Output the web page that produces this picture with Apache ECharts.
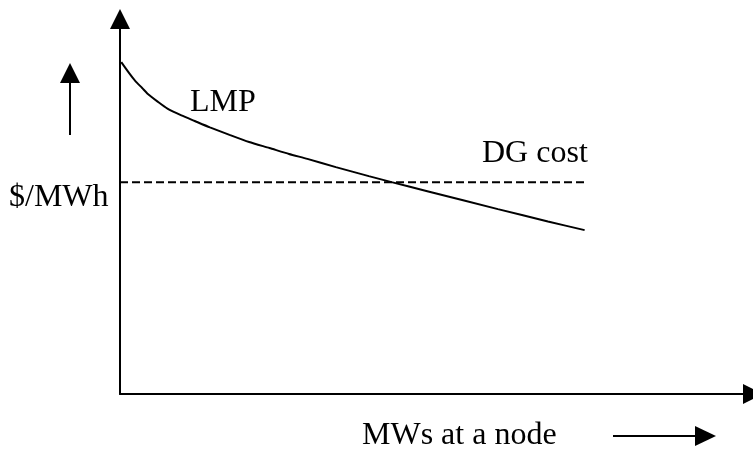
<!DOCTYPE html>
<html>
<head>
<meta charset="utf-8">
<script src="https://cdn.jsdelivr.net/npm/echarts@6/dist/echarts.min.js"></script>
<style>
html,body{margin:0;padding:0;background:#fff;}
#chart{width:753px;height:450px;}
</style>
</head>
<body>
<div id="chart"></div>
<script>
// LMP curve (x = MWs at a node, y = $/MWh), relative units
const lmpX = [0.2, 1.3, 2.4, 3.5, 4.4, 6.0, 7.5, 9.7, 11.8, 14.2, 17.3, 20.4, 23.6, 26.7, 29.6, 34.1, 39.3, 42.9, 48.7, 59.7, 67.6, 73.4];
const lmpY = [88.5, 85.9, 83.5, 81.6, 80.0, 77.9, 76.1, 74.3, 72.8, 71.1, 69.1, 67.2, 65.6, 64.0, 62.7, 60.5, 58.1, 56.5, 54.0, 49.3, 46.0, 43.7];
// DG cost level (flat)
const dgX = [0, 73.4];
const dgY = [56.5, 56.5];
const labels = { lmp: 'LMP', dg: 'DG cost', yName: '$/MWh', xName: 'MWs at a node' };

const chart = echarts.init(document.getElementById('chart'), null, { renderer: 'canvas' });
const font = '"Liberation Serif", "Times New Roman", serif';
const axisCommon = {
  type: 'value', min: 0, max: 100,
  axisLine: { show: true, onZero: false, symbol: ['none', 'triangle'], symbolSize: [20, 20],
              lineStyle: { color: '#000', width: 2 } },
  axisTick: { show: false }, axisLabel: { show: false }, splitLine: { show: false }
};
function txt(s, x, baseline) {
  return { type: 'text', x: x, y: baseline + 7,
           style: { text: s, font: '32px ' + font, fill: '#000', verticalAlign: 'bottom', textVerticalAlign: 'bottom' } };
}
chart.setOption({
  animation: false,
  backgroundColor: '#fff',
  grid: { left: 120, right: -3, top: 19, bottom: 56 },
  xAxis: Object.assign({}, axisCommon),
  yAxis: Object.assign({}, axisCommon),
  series: [
    { type: 'line', data: lmpX.map((x, i) => [x, lmpY[i]]), smooth: 0.2, symbol: 'none',
      lineStyle: { color: '#000', width: 2 } },
    { type: 'line', data: dgX.map((x, i) => [x, dgY[i]]), symbol: 'none',
      lineStyle: { color: '#000', width: 2, type: [8, 4] } }
  ],
  graphic: [
    txt(labels.lmp, 190, 112),
    txt(labels.dg, 482, 163),
    txt(labels.yName, 9, 207),
    txt(labels.xName, 362, 445),
    { type: 'line', shape: { x1: 70, y1: 82, x2: 70, y2: 135 }, style: { stroke: '#000', lineWidth: 2 } },
    { type: 'polygon', shape: { points: [[70, 63], [60, 83], [80, 83]] }, style: { fill: '#000' } },
    { type: 'line', shape: { x1: 613, y1: 436, x2: 696, y2: 436 }, style: { stroke: '#000', lineWidth: 2 } },
    { type: 'polygon', shape: { points: [[695, 426], [695, 446], [716, 436]] }, style: { fill: '#000' } }
  ]
});
</script>
</body>
</html>
